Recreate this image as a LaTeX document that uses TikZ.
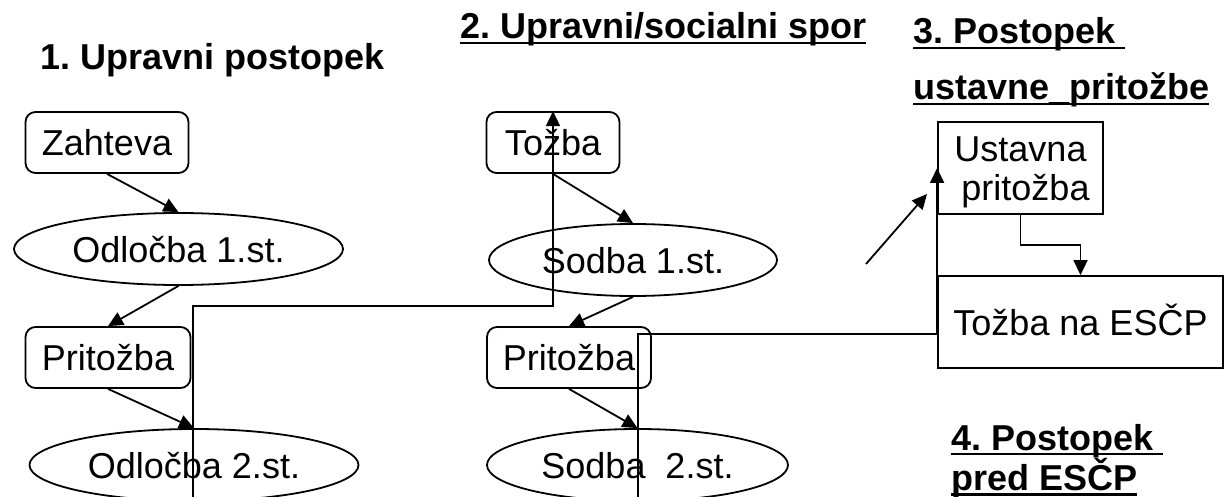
\documentclass[tikz,border=0pt]{standalone}
\usepackage{fontspec}
\setmainfont{Liberation Sans}
\usetikzlibrary{arrows.meta,shapes.geometric}
\frenchspacing
\newcommand\myul[1]{\setbox0\hbox{#1}\rlap{\rule[-5.3pt]{\wd0}{2.6pt}}\box0}
\begin{document}
\begin{tikzpicture}[x=1pt,y=-1pt,
  every node/.style={inner sep=0pt, font=\fontsize{36}{39}\selectfont},
  lw/.style={line width=1.8pt},
  arr/.style={lw, -{Triangle[length=15pt,width=14pt]}},
  rbox/.style={draw, lw, rounded corners=10pt, minimum height=61pt, text height=26pt, text depth=0pt},
  ell/.style={draw, lw, ellipse, minimum height=72pt, text height=26pt, text depth=0pt},
  sbox/.style={draw, lw, rectangle},
  title/.style={anchor=base west, font=\fontsize{36}{56}\selectfont\bfseries}
]
\useasboundingbox (0,0) rectangle (1226,497);

% titles
\node[title] (t1) at (40,70) {1. Upravni postopek};
\node[title] (t2) at (460,39) {\myul{2. Upravni/socialni spor}};
\node[title] (t3) at (913,44) {\vtop{\hbox{\myul{3. Postopek\ }}\hbox{\myul{ustavne\_pritožbe}}}};
\node[title, font=\fontsize{36}{39}\selectfont\bfseries] (t4) at (951,450) {\vtop{\hbox{\myul{4. Postopek\ }}\hbox{\myul{pred ESČP}}}};

% column 1
\node[rbox, minimum width=163pt] (zah) at (107,142.5) {Zahteva};
\node[ell, minimum width=329pt] (odl1) at (178.5,249) {Odločba 1.st.};
\node[rbox, minimum width=165pt] (pril) at (108,357.5) {Pritožba};
\node[ell, minimum width=329pt] (odl2) at (194,465) {Odločba 2.st.};

% column 2
\node[rbox, minimum width=133pt] (toz) at (553,142.5) {Tožba};
\node[ell, minimum width=288pt] (sod1) at (633,260) {Sodba 1.st.};
\node[rbox, minimum width=164pt] (prim) at (569,357.5) {Pritožba};
\node[ell, minimum width=301pt] (sod2) at (637.5,465) {Sodba\ \ 2.st.};

% column 3
\node[sbox, minimum width=165pt, minimum height=92pt] (ust) at (1020.5,168)
  {\raisebox{-5pt}[\height][\depth]{\begin{tabular}{@{}c@{}}Ustavna\\~pritožba\end{tabular}}};
\node[sbox, minimum width=285pt, minimum height=92pt, text height=26pt, text depth=0pt] (tes) at (1080.5,322) {Tožba na ESČP};

% arrows
\draw[arr] (zah.south) -- (odl1.north);
\draw[arr] (odl1.south) -- (pril.north);
\draw[arr] (pril.south) -- (odl2.north);
\draw[arr] (toz.south) -- (sod1.north);
\draw[arr] (sod1.south) -- (prim.north);
\draw[arr] (prim.south) -- (sod2.north);

\coordinate (l0) at (193,497);
\coordinate (l1) at (193,306);
\draw[arr] (l0) -- (l1) -| (toz.north);

\coordinate (m0) at (638,497);
\coordinate (m1) at (638,334);
\draw[arr] (m0) -- (m1) -| (ust.west);

\draw[arr] (ust.south) -- ++(0,30) -| (tes.north);

\coordinate (d0) at (866,264);
\coordinate (d1) at (927,194);
\draw[arr] (d0) -- (d1);
\end{tikzpicture}
\end{document}
